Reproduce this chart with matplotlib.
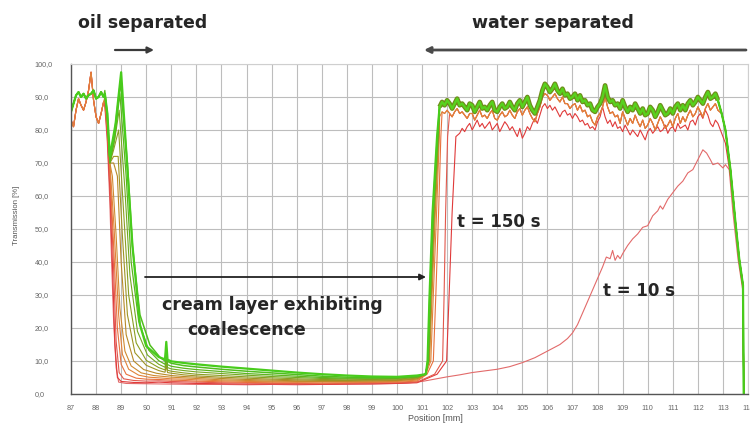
import numpy as np
import matplotlib.pyplot as plt

W, H = 750, 423

# oil phase at the top of the cell, 87.0 - 88.3 mm
top_x = [87.0, 87.1, 87.2, 87.3, 87.4, 87.5, 87.6, 87.7, 87.8, 87.9, 88.0, 88.1, 88.2, 88.3]
top_early = [83, 81, 86, 89.5, 87.5, 86, 88.5, 92, 97.5, 89, 84, 82, 85, 88.5]
top_late = [85.5, 88, 90.5, 91.5, 90, 91, 89.5, 90.5, 91, 92, 89.5, 90, 91.5, 90]

# oil / cream boundary, one profile per scan (red = early, green = late)
fall_x = [
    [88.35, 88.45, 88.55, 88.65, 88.75, 88.85, 89.0, 89.5, 90.0, 90.5, 91.0],
    [88.35, 88.45, 88.55, 88.68, 88.8, 88.92, 89.1, 89.5, 90.0, 90.5, 91.0],
    [88.35, 88.45, 88.55, 88.7, 88.85, 89.0, 89.2, 89.6, 90.0, 90.5, 91.0],
    [88.35, 88.45, 88.55, 88.72, 88.9, 89.05, 89.3, 89.7, 90.1, 90.5, 91.0],
    [88.35, 88.45, 88.55, 88.65, 88.8, 88.95, 89.15, 89.4, 89.8, 90.3, 91.0],
    [88.35, 88.45, 88.55, 88.7, 88.85, 89.0, 89.2, 89.5, 89.9, 90.4, 91.0],
    [88.35, 88.45, 88.55, 88.7, 88.88, 89.05, 89.25, 89.55, 90.0, 90.5, 90.75, 90.8, 90.85, 91.0],
    [88.35, 88.45, 88.55, 88.7, 88.9, 89.1, 89.3, 89.6, 90.0, 90.5, 90.75, 90.8, 90.85, 91.0],
    [88.35, 88.45, 88.55, 88.72, 88.92, 89.15, 89.35, 89.65, 90.05, 90.5, 90.75, 90.8, 90.85, 91.0],
    [88.35, 88.45, 88.55, 88.75, 88.95, 89.2, 89.4, 89.7, 90.1, 90.5, 90.75, 90.8, 90.85, 91.0],
    [88.35, 88.45, 88.55, 88.75, 88.97, 89.25, 89.45, 89.75, 90.15, 90.55, 90.75, 90.8, 90.85, 91.0],
    [88.35, 88.45, 88.55, 88.78, 89.0, 89.25, 89.45, 89.75, 90.0, 90.5, 90.75, 90.8, 90.85, 91.0],
]
fall_y = [
    [88, 78, 62, 40, 15, 5, 3.8, 3.5, 3.4, 3.6, 3.4],
    [89, 80, 66, 42, 16, 6.5, 4.6, 4.1, 3.9, 4.0, 3.8],
    [89, 80, 68, 45, 20, 9, 6, 4.8, 4.5, 4.4, 4.2],
    [90, 82, 70, 50, 24, 12, 7.5, 5.7, 5.1, 4.9, 4.6],
    [90, 82, 70, 66, 48, 26, 13, 8.5, 6.4, 5.6, 5.1],
    [90, 83, 70, 70, 66, 40, 18, 10, 7.4, 6.3, 5.6],
    [91, 83, 70, 72, 72, 48, 24, 12.5, 8.7, 7.1, 6.6, 8.5, 6.5, 6.3],
    [91, 83, 70, 74, 80, 55, 30, 15.5, 10.2, 8.0, 7.3, 9.8, 7.2, 6.9],
    [91, 84, 70, 76, 86, 62, 36, 19, 11.8, 9.0, 8.1, 11.2, 8.0, 7.6],
    [92, 84, 70, 78, 91, 66, 40, 22, 13.3, 10.1, 9.0, 12.6, 8.9, 8.4],
    [91, 85, 71, 80, 94.5, 70, 45, 24, 14.8, 11.1, 10.0, 14.0, 9.9, 9.3],
    [91, 85, 72, 82, 97.5, 68, 45, 21, 14.5, 11.2, 10.5, 15.8, 10.4, 9.9],
]

# cream layer
floor_x = [91.5, 92, 93, 94, 95, 96, 97, 98, 99, 100, 100.8]
floor_y = [
    [3.3, 3.2, 3.1, 3.0, 3.0, 3.0, 2.9, 3.0, 3.1, 3.2, 3.4],
    [3.7, 3.6, 3.4, 3.3, 3.2, 3.2, 3.1, 3.2, 3.3, 3.4, 3.6],
    [4.1, 3.9, 3.7, 3.5, 3.4, 3.4, 3.3, 3.4, 3.5, 3.6, 3.9],
    [4.5, 4.3, 4.0, 3.8, 3.7, 3.6, 3.6, 3.6, 3.7, 3.8, 4.2],
    [4.9, 4.7, 4.3, 4.1, 3.9, 3.8, 3.8, 3.8, 3.9, 4.0, 4.5],
    [5.3, 5.1, 4.7, 4.4, 4.2, 4.0, 3.9, 3.9, 4.0, 4.1, 4.6],
    [5.8, 5.5, 5.1, 4.8, 4.5, 4.3, 4.1, 4.1, 4.2, 4.3, 4.8],
    [6.4, 6.0, 5.6, 5.2, 4.9, 4.6, 4.4, 4.3, 4.4, 4.5, 5.0],
    [7.1, 6.7, 6.2, 5.7, 5.3, 5.0, 4.7, 4.6, 4.6, 4.7, 5.1],
    [7.8, 7.4, 6.8, 6.2, 5.8, 5.4, 5.0, 4.8, 4.8, 4.9, 5.3],
    [8.6, 8.2, 7.5, 6.9, 6.4, 5.9, 5.4, 5.1, 5.0, 5.0, 5.4],
    [9.4, 9.0, 8.3, 7.7, 7.1, 6.5, 6.0, 5.6, 5.3, 5.2, 5.6],
]

# cream / water boundary
rise_levels = [6, 10, 30, 55, 78]
rise_x = [
    [101.6, 101.98, 102.08, 102.2, 102.35],
    [101.5, 101.82, 101.88, 101.94, 102.02],
    [101.2, 101.45, 101.55, 101.66, 101.75],
    [101.15, 101.35, 101.45, 101.58, 101.69],
    [101.12, 101.3, 101.4, 101.53, 101.67],
    [101.12, 101.28, 101.37, 101.5, 101.66],
    [101.13, 101.27, 101.35, 101.48, 101.65],
    [101.13, 101.26, 101.34, 101.46, 101.64],
    [101.14, 101.25, 101.33, 101.45, 101.63],
    [101.14, 101.24, 101.32, 101.44, 101.62],
    [101.15, 101.23, 101.31, 101.43, 101.61],
    [101.15, 101.22, 101.3, 101.42, 101.6],
]

# water phase, 0.1 mm steps
plat_x = np.round(np.arange(101.7, 112.85, 0.1), 1)
plat_green = [
    87, 88.5, 87.5, 89, 88, 86.5, 88, 89.5, 87.5, 88,
    87, 86, 88, 87.5, 85.5, 87, 88.5, 86.5, 87, 86,
    87.5, 88.5, 86, 85.5, 87, 88, 86.5, 87, 88.5, 87,
    86, 88, 89, 87, 88.5, 90, 87.5, 86, 85, 87,
    89, 92, 94, 93, 91.5, 92.5, 94, 92, 91, 92.5,
    90.5, 91, 89.5, 90, 91, 89, 90.5, 88.5, 89, 87.5,
    88, 86, 85.5, 87, 88, 90, 93.5, 90, 88.5, 89,
    87.5, 88, 86.5, 89, 87, 85.5, 87, 86, 88, 86.5,
    85, 86.5, 84.5, 85, 87, 86, 84, 85.5, 87.5, 86,
    84.5, 85, 86.5, 85, 87, 88, 86, 87.5, 86, 88,
    89, 87.5, 88.5, 90, 89, 88, 90, 91.5, 89.5, 90,
    91, 89,
]
plat_orange = [
    84, 85.5, 85, 86, 85, 84, 85.5, 86.5, 85, 85.5,
    84.5, 83.5, 85, 85, 83, 84.5, 86, 84, 84.5, 83.5,
    85, 86, 83.5, 83, 84.5, 85.5, 84, 84.5, 86, 84.5,
    83.5, 85.5, 86.5, 84.5, 86, 87, 85, 83.5, 82.5, 85,
    87, 90, 91, 90.5, 89, 90, 91, 89.5, 88.5, 90,
    88, 88, 86.5, 87.5, 88, 86, 87.5, 85.5, 86, 84,
    84.5, 82.5, 81.5, 84, 85, 87, 90, 87, 85, 85.5,
    84, 84.5, 82, 85.5, 83.5, 81.5, 83.5, 82, 84.5, 82.5,
    81, 83, 80.5, 81.5, 83.5, 82, 80, 82, 84, 82.5,
    80.5, 81.5, 83, 81, 83.5, 85, 82, 84, 82.5, 84.5,
    86, 84, 85, 87, 85.5, 84, 86.5, 88, 86, 87,
    88, 86,
]
red_x = np.round(np.arange(102.5, 112.85, 0.1), 1)
plat_red = [
    79, 80.5, 79.5, 81, 82, 80, 81.5, 83, 81, 82,
    80.5, 81.5, 82.5, 80, 81, 82, 79.5, 81, 82.5, 81.5,
    80, 81, 79.5, 78, 80.5, 77.5, 79, 81, 80, 82,
    83.5, 82, 84.5, 87, 88, 86.5, 87.5, 86, 87, 85.5,
    84, 85.5, 86, 84.5, 85, 83.5, 85, 84, 82.5, 83,
    81.5, 82, 80.5, 81, 80, 82.5, 84, 87, 84, 82,
    83, 81, 82.5, 80.5, 81, 79.5, 81.5, 80, 78.5, 80,
    79, 78, 80, 78.5, 77, 79.5, 80.5, 79, 80, 81,
    79.5, 80, 81.5, 79, 80.5, 81, 79.5, 82, 80.5, 81,
    81.5, 80, 82.5, 83, 81.5, 84, 85, 83.5, 86, 84.5,
    82, 81, 83, 82,
]

# bottom of the cell
drop_x = [112.95, 113.1, 113.3, 113.5, 113.65, 113.8, 113.83]
drop_green = [85, 80, 68, 52, 41, 33, 0]
drop_red = [79, 76, 66, 51, 40, 32, 0]

plateau_group = ['red', 'orange', 'orange', 'orange'] + ['green'] * 8

# first scan, t = 10 s
t10_x = [88.35, 88.45, 88.55, 88.62, 88.7, 88.8, 88.9, 89.2, 90, 91,
         92, 93, 94, 95, 96, 97, 98, 99, 100, 100.5,
         101, 101.5, 102, 102.5, 103, 103.5, 104, 104.5, 105, 105.5,
         106, 106.5, 106.8, 107, 107.2, 107.4, 107.6, 107.8, 108, 108.2,
         108.35, 108.5, 108.6, 108.7, 108.8, 108.9, 109, 109.2, 109.4, 109.6,
         109.8, 110, 110.2, 110.4, 110.5, 110.6, 110.8, 111, 111.2, 111.4,
         111.6, 111.8, 112, 112.2, 112.35, 112.5, 112.6, 112.8, 113, 113.1,
         113.25, 113.4, 113.6, 113.8, 113.83]
t10_y = [87, 76, 58, 40, 22, 8, 3.6, 3.2, 3.1, 3.0,
         2.9, 2.9, 2.8, 2.9, 2.8, 2.9, 3.0, 3.0, 3.2, 3.4,
         3.8, 4.5, 5.2, 5.8, 6.5, 7.0, 7.5, 8.3, 9.5, 11,
         13, 15, 16.8, 18.5, 21, 24.5, 28, 31.5, 35, 38.5,
         41.5, 41, 43.5, 40.5, 42, 41, 42.5, 45, 47, 48.5,
         50.5, 51, 54, 55.5, 57, 56, 59, 61, 63, 64.5,
         67, 68, 71, 74, 73, 71, 69.5, 70, 68.5, 69.5,
         68, 55, 41, 31, 0]

fan_colors = ['#e03a3a', '#e2584c', '#e8703c', '#e0823a', '#cf8a30', '#b88a28',
              '#9e9424', '#8a9e22', '#72a820', '#5cb41e', '#50be1e', '#48cc1c']
fan_widths = [0.8] * 9 + [0.9, 1.1, 1.6]

plt.rcParams['font.family'] = ['DejaVu Sans']

fig = plt.figure(figsize=(W / 100, H / 100), dpi=100)
ax = fig.add_axes([71 / W, 29 / H, 677 / W, 330 / H])

plateaus = {
    'green': (plat_x, np.array(plat_green), drop_green),
    'orange': (plat_x, np.array(plat_orange), drop_green),
    'red': (red_x, np.array(plat_red), drop_red),
}

ax.plot(top_x + t10_x, top_early + t10_y, color='#e26a6a', lw=0.8)

for k in range(len(fall_x)):
    top = top_early if k < 4 else top_late
    gx, gy, gdrop = plateaus[plateau_group[k]]
    keep = gx > rise_x[k][-1]
    xs = top_x + fall_x[k] + floor_x + rise_x[k] + list(gx[keep]) + drop_x
    ys = top + fall_y[k] + floor_y[k] + rise_levels + list(gy[keep]) + gdrop
    ax.plot(xs, ys, color=fan_colors[k], lw=fan_widths[k])

# overlapping late scans form a thick band in the water phase
ax.plot(plat_x, plat_green, color='#6e8c1a', lw=3.4, solid_capstyle='butt')
ax.plot(plat_x, plat_green, color='#58d21e', lw=1.7)

ax.set_xlim(87, 114)
ax.set_ylim(0, 100)
ax.set_xticks(range(87, 115))
ax.set_yticks(range(0, 101, 10))
ax.set_yticklabels([f'{v:.1f}'.replace('.', ',') for v in range(0, 101, 10)],
                   ha='left', fontfamily='Liberation Sans', fontsize=5.2, color='#666666')
ax.set_xticklabels([str(v) for v in range(87, 115)],
                   fontfamily='Liberation Sans', fontsize=5.2, color='#666666')
ax.tick_params(axis='y', length=0, pad=26)
ax.tick_params(axis='x', length=0, pad=8)
ax.grid(True, color='#bdbdbd', lw=0.8)
ax.set_axisbelow(True)
for side in ['top', 'right']:
    ax.spines[side].set_color('#cfcfcf')
for side in ['left', 'bottom']:
    ax.spines[side].set_color('#555555')
    ax.spines[side].set_linewidth(1.0)

fig.text(435 / W, 1 - 418 / H, 'Position [mm]', ha='center', va='center',
         fontfamily='Liberation Sans', fontsize=6.5, color='#555555')
fig.text(17 / W, 1 - 215 / H, 'Transmission [%]', ha='center', va='center', rotation=90,
         fontfamily='Liberation Sans', fontsize=5.6, color='#555555')

label_style = dict(fontsize=12.5, fontweight='bold', color='#262626', va='baseline', ha='left')
fig.text(78 / W, 1 - 28 / H, 'oil separated', **label_style)
fig.text(472 / W, 1 - 28 / H, 'water separated', **label_style)
fig.text(162 / W, 1 - 310 / H, 'cream layer exhibiting', **label_style)
fig.text(187 / W, 1 - 335 / H, 'coalescence', **label_style)
fig.text(457 / W, 1 - 227 / H, 't = 150 s', **dict(label_style, fontsize=12))
fig.text(603 / W, 1 - 296 / H, 't = 10 s', **dict(label_style, fontsize=12))

arrows = [((115, 50), (154, 50), 1.6, '#3a3a3a'),
          ((746, 50), (424, 50), 2.0, '#4a4a4a'),
          ((145, 277), (426, 277), 1.3, '#222222')]
for (x0, y0), (x1, y1), lw, col in arrows:
    ax.annotate('', xy=(x1, H - y1), xytext=(x0, H - y0),
                xycoords='figure pixels', textcoords='figure pixels',
                arrowprops=dict(arrowstyle='-|>', lw=lw, color=col,
                                mutation_scale=9, shrinkA=0, shrinkB=0))

fig.savefig('out.png', dpi=100, facecolor='white')
